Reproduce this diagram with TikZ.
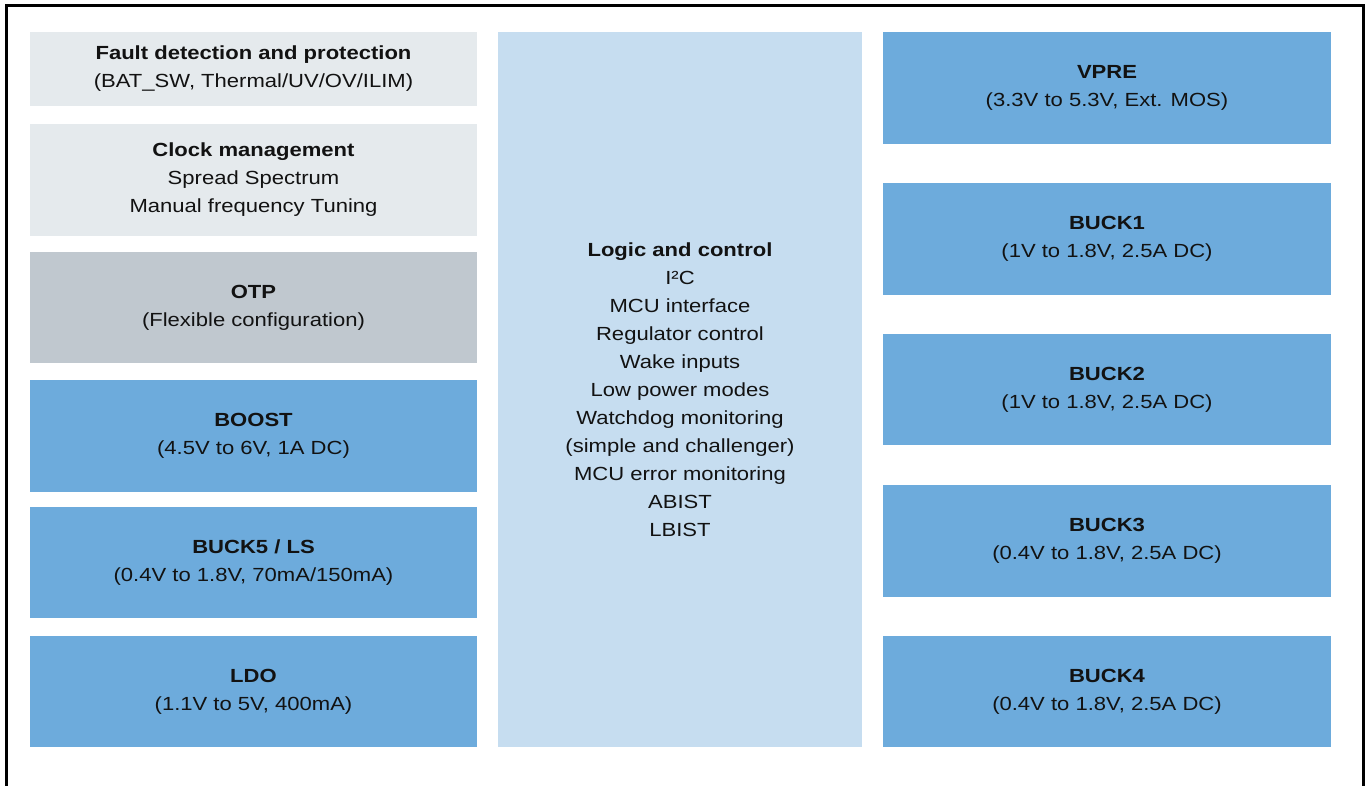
\documentclass[tikz,border=0pt]{standalone}
\usepackage{fontspec}
\setmainfont[FakeStretch=1.16]{Liberation Sans}
\usepackage{tikz}
\usetikzlibrary{positioning}

\definecolor{faultgray}{HTML}{E5EAED}
\definecolor{otpgray}{HTML}{C0C8CF}
\definecolor{regblue}{HTML}{6DABDC}
\definecolor{logicblue}{HTML}{C6DDF0}

\begin{document}
\begin{tikzpicture}[x=1pt,y=-1pt
	,every node/.style={inner sep=0pt,align=center,text=black!93,
	  font=\fontsize{19}{28}\selectfont}
	,semithick]
  \tikzstyle{blk}=[rectangle,minimum width=447pt]
  \tikzstyle{infoblk}=[blk,fill=faultgray]
  \tikzstyle{otpblk}=[blk,fill=otpgray]
  \tikzstyle{regblk}=[blk,fill=regblue,minimum width=448pt]
  \tikzstyle{logicblk}=[rectangle,fill=logicblue,minimum width=364pt,minimum height=715pt]

  \clip (0,0) rectangle (1369,786);
  \useasboundingbox (0,0) rectangle (1369,786);
  % outer frame, open at the bottom
  \draw[line width=2.4pt] (6.5,800) |- (1363.5,5.5) -- (1363.5,800);

  % left column
  \node[infoblk,minimum height=74pt]  (fault) at (253.5,69)
    {\textbf{Fault detection and protection}\\(BAT\_SW, Thermal/UV/OV/ILIM)};
  \node[infoblk,minimum height=112pt] (clock) at (253.5,180)
    {\textbf{Clock management}\\Spread Spectrum\\Manual frequency Tuning};
  \node[otpblk,minimum height=111pt]  (otp) at (253.5,307.5)
    {\textbf{OTP}\\(Flexible configuration)};
  \node[regblk,minimum width=447pt,minimum height=112pt] (boost) at (253.5,436)
    {\textbf{BOOST}\\(4.5V to 6V, 1A DC)};
  \node[regblk,minimum width=447pt,minimum height=111pt] (buckfive) at (253.5,562.5)
    {\textbf{BUCK5 / LS}\\(0.4V to 1.8V, 70mA/150mA)};
  \node[regblk,minimum width=447pt,minimum height=111pt] (ldo) at (253.5,691.5)
    {\textbf{LDO}\\(1.1V to 5V, 400mA)};

  % middle column
  \node[logicblk] (logic) at (680,389.5)
    {\textbf{Logic and control}\\I²C\\MCU interface\\Regulator control\\
     Wake inputs\\Low power modes\\Watchdog monitoring\\(simple and challenger)\\
     MCU error monitoring\\ABIST\\LBIST};

  % right column
  \node[regblk,minimum height=112pt] (vpre) at (1107,88)
    {\textbf{VPRE}\\(3.3V to 5.3V, Ext. MOS)};
  \node[regblk,minimum height=112pt] (buckone) at (1107,239)
    {\textbf{BUCK1}\\(1V to 1.8V, 2.5A DC)};
  \node[regblk,minimum height=111pt] (bucktwo) at (1107,389.5)
    {\textbf{BUCK2}\\(1V to 1.8V, 2.5A DC)};
  \node[regblk,minimum height=112pt] (buckthree) at (1107,541)
    {\textbf{BUCK3}\\(0.4V to 1.8V, 2.5A DC)};
  \node[regblk,minimum height=111pt] (buckfour) at (1107,691.5)
    {\textbf{BUCK4}\\(0.4V to 1.8V, 2.5A DC)};
\end{tikzpicture}
\end{document}
